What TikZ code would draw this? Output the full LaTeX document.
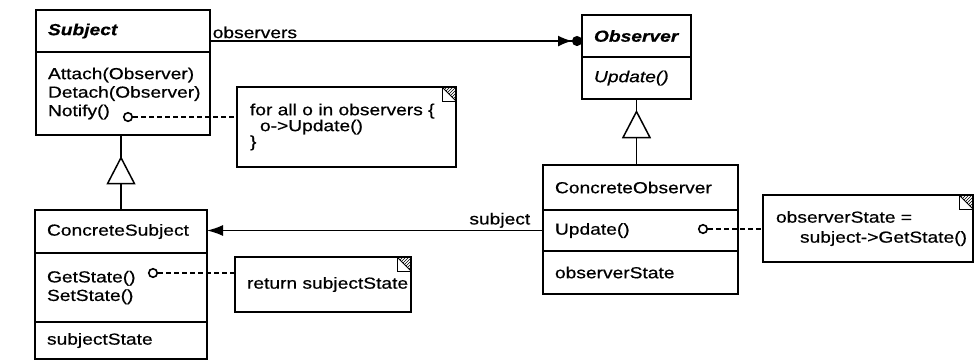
\documentclass[tikz,border=0pt]{standalone}
\usepackage{fontspec}
\setmainfont{Liberation Sans}[FakeStretch=1.2, FakeBold=0.6]
\usetikzlibrary{positioning,arrows.meta,shapes.geometric,calc,patterns}

% folded corner of a note
\newcommand{\dogear}[1]{%
  \draw[line width=0.9pt, pattern=north east lines] ($(#1.north east)+(-14,0)$) -- (#1.north east) -- ($(#1.north east)+(0,14)$) -- cycle;
  \draw[line width=0.9pt] ($(#1.north east)+(-14,0)$) |- ($(#1.north east)+(0,14)$);}

\begin{document}
\begin{tikzpicture}[x=1pt, y=-1pt, line width=1.5pt,
  cls/.style = {draw, rectangle, outer sep=0pt, inner xsep=12pt, inner ysep=0pt, align=left, font=\fontsize{16}{18.5}\selectfont},
  note/.style = {draw, rectangle, anchor=north west, outer sep=0pt, inner xsep=13pt, inner ysep=0pt, align=left, font=\fontsize{16}{20}\selectfont},
  opdot/.style = {draw, circle, fill=white, inner sep=0pt, minimum size=8.5pt, line width=1.6pt},
  gen/.style = {draw, fill=white, isosceles triangle, isosceles triangle stretches, shape border rotate=90, minimum height=26pt, minimum width=27pt, inner sep=0pt},
  link/.style = {dash pattern=on 5pt off 3pt, line width=1.3pt},
  lbl/.style = {font=\fontsize{16}{18}\selectfont, inner sep=2pt}]

\useasboundingbox (0,0) rectangle (974,360);

% Subject
\node[cls, anchor=north west, text width=150pt, minimum height=42pt] (subj) at (36,10) {\textbf{\textit{Subject}}};
\node[cls, text width=150pt, minimum height=83pt, below=0pt of subj] (subjOps) {Attach(Observer)\\Detach(Observer)\\Notify()};

% Observer
\node[cls, anchor=north west, text width=85pt, minimum height=42pt] (obs) at (582,15) {\textbf{\textit{Observer}}};
\node[cls, text width=85pt, minimum height=42pt, below=0pt of obs] (obsOps) {\textit{Update()}};

% ConcreteObserver
\node[cls, anchor=north west, text width=171pt, minimum height=45pt] (cobs) at (543,165) {ConcreteObserver};
\node[cls, text width=171pt, minimum height=41pt, below=0pt of cobs] (cobsOps) {Update()};
\node[cls, text width=171pt, minimum height=43pt, below=0pt of cobsOps] (cobsAttr) {observerState};

% ConcreteSubject
\node[cls, anchor=north west, text width=148pt, minimum height=43pt] (csub) at (35,210) {ConcreteSubject};
\node[cls, text width=148pt, minimum height=69pt, below=0pt of csub] (csubOps) {GetState()\\SetState()};
\node[cls, text width=148pt, minimum height=37pt, below=0pt of csubOps] (csubAttr) {subjectState};

% notes
\node[note, text width=193pt, minimum height=80pt, font=\fontsize{16}{12.5}\selectfont] (n1) at (237,87) {for all o in observers \{\\\hspace*{10pt}o->Update()\\\}};
\node[note, text width=152pt, minimum height=55pt, inner xsep=12pt] (n2) at (235,257) {\mbox{return subjectState}};
\node[note, text width=184pt, minimum height=67pt] (n3) at (763,195) {observerState =\\\hspace*{24pt}\mbox{subject->GetState()}};
\dogear{n1}
\dogear{n2}
\dogear{n3}

\node[opdot] (d1) at (128,117) {};
\node[opdot] (d2) at (153,273) {};
\node[opdot] (d3) at (703,229) {};
\draw[link] (d1) -- (d1 -| n1.west);
\draw[link] (d2) -- (d2 -| n2.west);
\draw[link] (d3) -- (d3 -| n3.west);

% associations
\draw[-{Latex[length=14pt,width=11pt] Circle[length=10pt]}] ([yshift=-10pt]subj.east) -- ([yshift=-10pt]subj.east -| obs.west) node[pos=0, above right, lbl] (lObs) {observers};
\draw[-{Latex[length=16pt,width=11pt]}] (cobsOps.west) -- (cobsOps.west -| csub.east) node[pos=0, above left, lbl, xshift=-10pt] (lSub) {subject};

% inheritance
\draw (subjOps.south -| csub.north) -- (csub.north) node[gen, pos=0.54] (g1) {};
\draw (obsOps.south) -- (obsOps.south |- cobs.north) node[gen, pos=0.46] (g2) {};
\end{tikzpicture}
\end{document}
